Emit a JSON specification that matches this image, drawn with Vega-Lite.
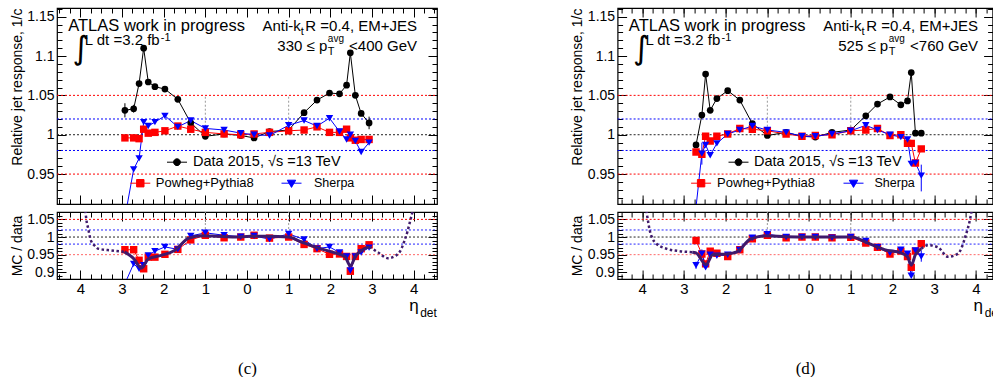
{
"$schema":"https://vega.github.io/schema/vega-lite/v6.json",
"background":"white",
"padding":{"left":9,"top":6,"right":-8,"bottom":0},
"bounds":"flush",
"columns":2,
"spacing":{"row":8,"column":180.6},
"datasets":{
"c":[
{"eta":-2.93,"d":1.031,"p":0.996,"s":0.895,"rp":0.964,"rs":0.868},
{"eta":-2.72,"d":1.033,"p":0.996,"s":0.956,"rp":0.964,"rs":0.924},
{"eta":-2.59,"d":1.065,"p":0.995,"s":0.970,"rp":0.934,"rs":0.910},
{"eta":-2.48,"d":1.110,"p":1.007,"s":1.016,"rp":0.910,"rs":0.920},
{"eta":-2.37,"d":1.067,"p":1.002,"s":1.011,"rp":0.943,"rs":0.948},
{"eta":-2.21,"d":1.061,"p":1.003,"s":1.016,"rp":0.943,"rs":0.960},
{"eta":-1.97,"d":1.058,"p":1.005,"s":1.024,"rp":0.951,"rs":0.972},
{"eta":-1.66,"d":1.045,"p":1.011,"s":1.010,"rp":0.965,"rs":0.965},
{"eta":-1.35,"d":1.015,"p":1.007,"s":1.018,"rp":0.992,"rs":1.003},
{"eta":-1.0,"d":0.998,"p":1.003,"s":1.008,"rp":1.005,"rs":1.012},
{"eta":-0.55,"d":1.001,"p":1.001,"s":1.006,"rp":0.998,"rs":1.005},
{"eta":-0.15,"d":0.999,"p":1.000,"s":1.002,"rp":1.000,"rs":1.001},
{"eta":0.17,"d":0.996,"p":1.001,"s":1.000,"rp":1.005,"rs":1.003},
{"eta":0.54,"d":1.004,"p":1.003,"s":0.999,"rp":0.997,"rs":0.994},
{"eta":1.0,"d":1.006,"p":1.005,"s":1.012,"rp":1.000,"rs":1.009},
{"eta":1.37,"d":1.028,"p":1.006,"s":1.018,"rp":0.979,"rs":0.993},
{"eta":1.68,"d":1.044,"p":1.010,"s":1.011,"rp":0.967,"rs":0.967},
{"eta":1.98,"d":1.053,"p":1.003,"s":1.021,"rp":0.951,"rs":0.972},
{"eta":2.22,"d":1.052,"p":1.003,"s":1.004,"rp":0.952,"rs":0.956},
{"eta":2.39,"d":1.063,"p":1.007,"s":0.994,"rp":0.945,"rs":0.945},
{"eta":2.48,"d":1.104,"p":0.996,"s":1.000,"rp":0.903,"rs":0.905},
{"eta":2.6,"d":1.050,"p":0.993,"s":0.992,"rp":0.945,"rs":0.945},
{"eta":2.74,"d":1.027,"p":0.994,"s":0.978,"rp":0.967,"rs":0.956},
{"eta":2.93,"d":1.015,"p":0.994,"s":0.990,"rp":0.978,"rs":0.970}
],
"c_fit":[
{"eta":-3.88,"v":1.075,"part":"L"},{"eta":-3.85,"v":1.045,"part":"L"},{"eta":-3.81,"v":1.024,"part":"L"},{"eta":-3.77,"v":1.0,"part":"L"},{"eta":-3.73,"v":0.986,"part":"L"},{"eta":-3.65,"v":0.975,"part":"L"},{"eta":-3.57,"v":0.967,"part":"L"},{"eta":-3.25,"v":0.962,"part":"L"},{"eta":-2.94,"v":0.958,"part":"L"},
{"eta":-2.94,"v":0.958,"part":"S"},{"eta":-2.73,"v":0.940,"part":"S"},{"eta":-2.53,"v":0.912,"part":"S"},{"eta":-2.37,"v":0.938,"part":"S"},{"eta":-2.06,"v":0.948,"part":"S"},{"eta":-1.74,"v":0.962,"part":"S"},{"eta":-1.41,"v":0.996,"part":"S"},{"eta":-1.1,"v":1.004,"part":"S"},{"eta":-0.7,"v":1.002,"part":"S"},{"eta":-0.3,"v":1.0,"part":"S"},{"eta":0.1,"v":1.002,"part":"S"},{"eta":0.5,"v":1.002,"part":"S"},{"eta":0.99,"v":1.0,"part":"S"},{"eta":1.31,"v":0.986,"part":"S"},{"eta":1.63,"v":0.972,"part":"S"},{"eta":2.03,"v":0.958,"part":"S"},{"eta":2.35,"v":0.945,"part":"S"},{"eta":2.48,"v":0.918,"part":"S"},{"eta":2.6,"v":0.945,"part":"S"},{"eta":2.82,"v":0.967,"part":"S"},{"eta":2.94,"v":0.972,"part":"S"},
{"eta":2.94,"v":0.972,"part":"R"},{"eta":3.14,"v":0.957,"part":"R"},{"eta":3.38,"v":0.940,"part":"R"},{"eta":3.58,"v":0.948,"part":"R"},{"eta":3.7,"v":0.965,"part":"R"},{"eta":3.78,"v":0.990,"part":"R"},{"eta":3.85,"v":1.015,"part":"R"},{"eta":3.9,"v":1.038,"part":"R"},{"eta":3.98,"v":1.075,"part":"R"}
],
"c_derr":[{"eta":-2.93,"lo":1.022,"hi":1.040},{"eta":2.93,"lo":1.007,"hi":1.023},{"eta":-2.72,"lo":1.028,"hi":1.038}],
"d":[
{"eta":-2.71,"d":0.987,"p":0.978,"s":0.908,"rp":0.990,"rs":0.920},
{"eta":-2.57,"d":1.025,"p":0.975,"s":0.976,"rp":0.952,"rs":0.953},
{"eta":-2.48,"d":1.077,"p":0.998,"s":0.987,"rp":0.924,"rs":0.914},
{"eta":-2.37,"d":1.031,"p":0.992,"s":0.974,"rp":0.960,"rs":0.950},
{"eta":-2.21,"d":1.046,"p":0.998,"s":0.989,"rp":0.954,"rs":0.947},
{"eta":-1.95,"d":1.056,"p":1.001,"s":1.001,"rp":0.945,"rs":0.950},
{"eta":-1.66,"d":1.044,"p":1.008,"s":1.006,"rp":0.964,"rs":0.963},
{"eta":-1.36,"d":1.014,"p":1.007,"s":1.011,"rp":0.995,"rs":0.998},
{"eta":-1.0,"d":0.999,"p":1.005,"s":1.006,"rp":1.005,"rs":1.008},
{"eta":-0.55,"d":1.003,"p":1.001,"s":1.003,"rp":0.998,"rs":1.000},
{"eta":-0.17,"d":0.998,"p":0.998,"s":0.998,"rp":1.000,"rs":1.000},
{"eta":0.15,"d":0.997,"p":0.999,"s":0.998,"rp":1.000,"rs":1.000},
{"eta":0.55,"d":1.003,"p":1.000,"s":1.001,"rp":0.998,"rs":0.998},
{"eta":1.0,"d":1.006,"p":1.005,"s":1.005,"rp":0.999,"rs":1.000},
{"eta":1.36,"d":1.024,"p":1.006,"s":1.012,"rp":0.983,"rs":0.989},
{"eta":1.64,"d":1.039,"p":1.008,"s":1.006,"rp":0.971,"rs":0.971},
{"eta":1.94,"d":1.048,"p":0.999,"s":1.000,"rp":0.952,"rs":0.955},
{"eta":2.2,"d":1.038,"p":1.000,"s":0.997,"rp":0.960,"rs":0.964},
{"eta":2.36,"d":1.043,"p":0.989,"s":0.994,"rp":0.945,"rs":0.953},
{"eta":2.45,"d":1.079,"p":0.989,"s":0.963,"rp":0.914,"rs":0.890},
{"eta":2.55,"d":1.002,"p":0.964,"s":0.964,"rp":0.960,"rs":0.962},
{"eta":2.69,"d":1.002,"p":0.982,"s":0.948,"rp":0.981,"rs":0.945}
],
"d_fit":[
{"eta":-3.9,"v":1.075,"part":"L"},{"eta":-3.86,"v":1.045,"part":"L"},{"eta":-3.82,"v":1.019,"part":"L"},{"eta":-3.75,"v":0.995,"part":"L"},{"eta":-3.66,"v":0.981,"part":"L"},{"eta":-3.42,"v":0.967,"part":"L"},{"eta":-3.1,"v":0.960,"part":"L"},{"eta":-2.8,"v":0.957,"part":"L"},
{"eta":-2.8,"v":0.957,"part":"S"},{"eta":-2.71,"v":0.955,"part":"S"},{"eta":-2.47,"v":0.922,"part":"S"},{"eta":-2.31,"v":0.950,"part":"S"},{"eta":-1.98,"v":0.952,"part":"S"},{"eta":-1.73,"v":0.958,"part":"S"},{"eta":-1.41,"v":0.994,"part":"S"},{"eta":-1.02,"v":1.004,"part":"S"},{"eta":-0.55,"v":1.001,"part":"S"},{"eta":0.0,"v":1.0,"part":"S"},{"eta":0.62,"v":1.0,"part":"S"},{"eta":1.02,"v":1.0,"part":"S"},{"eta":1.41,"v":0.983,"part":"S"},{"eta":1.81,"v":0.964,"part":"S"},{"eta":2.2,"v":0.955,"part":"S"},{"eta":2.36,"v":0.944,"part":"S"},{"eta":2.45,"v":0.920,"part":"S"},{"eta":2.55,"v":0.950,"part":"S"},{"eta":2.69,"v":0.967,"part":"S"},
{"eta":2.69,"v":0.967,"part":"R"},{"eta":2.85,"v":0.977,"part":"R"},{"eta":3.09,"v":0.971,"part":"R"},{"eta":3.33,"v":0.944,"part":"R"},{"eta":3.57,"v":0.953,"part":"R"},{"eta":3.77,"v":1.010,"part":"R"},{"eta":3.84,"v":1.040,"part":"R"},{"eta":3.9,"v":1.075,"part":"R"}
],
"d_serr":[{"eta":-2.57,"lo":0.962,"hi":0.990},{"eta":2.69,"lo":0.928,"hi":0.962}],
"d_rserr":[{"eta":2.69,"lo":0.930,"hi":0.962},{"eta":-2.71,"lo":0.910,"hi":0.930},{"eta":-2.57,"lo":0.940,"hi":0.965}]
},
"concat":[
{"width":380,"height":196,
"layer":[
{"data":{"values":[{"v":1.05},{"v":0.95}]},"mark":{"type":"rule","color":"#ff0000","strokeDash":[2,2],"strokeWidth":1},
 "encoding":{"x":{"datum":-4.56,"type":"quantitative","scale":{"domain":[-4.56,4.56],"nice":false,"zero":false},"axis":null},"x2":{"datum":4.56},
 "y":{"field":"v","type":"quantitative","scale":{"domain":[0.912,1.161],"nice":false,"zero":false},"axis":{"orient":"left","values":[0.95,1,1.05,1.1,1.15],"format":"~g","tickSize":-9,"labelPadding":12,"labelFontSize":14,"labelOverlap":false,"labelFlush":false,"title":"Relative jet response, 1/c","titleFontSize":14,"titleAnchor":"end","titlePadding":2.5}}}},
{"data":{"values":[{"v":1.02},{"v":0.98}]},"mark":{"type":"rule","color":"#0000ff","strokeDash":[2,2],"strokeWidth":1},
 "encoding":{"x":{"datum":-4.56,"type":"quantitative","scale":{"domain":[-4.56,4.56],"nice":false,"zero":false},"axis":null},"x2":{"datum":4.56},
 "y":{"field":"v","type":"quantitative","scale":{"domain":[0.912,1.161],"nice":false,"zero":false},"axis":{"orient":"left","values":[0.92,0.93,0.94,0.95,0.96,0.97,0.98,0.99,1,1.01,1.02,1.03,1.04,1.05,1.06,1.07,1.08,1.09,1.1,1.11,1.12,1.13,1.14,1.15,1.16],"tickSize":-5,"labels":false,"title":null}}}},
{"data":{"values":[{"v":1}]},"mark":{"type":"rule","color":"#222222","strokeDash":[2,2],"strokeWidth":1},
 "encoding":{"x":{"datum":-4.56,"type":"quantitative","scale":{"domain":[-4.56,4.56],"nice":false,"zero":false},"axis":null},"x2":{"datum":4.56},
 "y":{"field":"v","type":"quantitative","scale":{"domain":[0.912,1.161],"nice":false,"zero":false},"axis":{"orient":"right","values":[0.95,1,1.05,1.1,1.15],"tickSize":-9,"labels":false,"title":null}}}},
{"data":{"values":[{"e":-1},{"e":1}]},"mark":{"type":"rule","color":"#999999","strokeDash":[2,2],"strokeWidth":1},
 "encoding":{"x":{"field":"e","type":"quantitative","scale":{"domain":[-4.56,4.56],"nice":false,"zero":false},"axis":{"orient":"bottom","values":[-4,-3,-2,-1,0,1,2,3,4],"tickSize":-9,"labels":false,"title":null}},
 "y":{"datum":1,"type":"quantitative","scale":{"domain":[0.912,1.161],"nice":false,"zero":false},"axis":{"orient":"right","values":[0.92,0.93,0.94,0.95,0.96,0.97,0.98,0.99,1,1.01,1.02,1.03,1.04,1.05,1.06,1.07,1.08,1.09,1.1,1.11,1.12,1.13,1.14,1.15,1.16],"tickSize":-5,"labels":false,"title":null}},"y2":{"datum":1.05}}},
{"data":{"name":"c"},"mark":{"type":"line","color":"black","strokeWidth":1,"clip":true},
 "encoding":{"x":{"field":"eta","type":"quantitative","scale":{"domain":[-4.56,4.56],"nice":false,"zero":false},"axis":{"orient":"bottom","values":[-4.5,-4.25,-4,-3.75,-3.5,-3.25,-3,-2.75,-2.5,-2.25,-2,-1.75,-1.5,-1.25,-1,-0.75,-0.5,-0.25,0,0.25,0.5,0.75,1,1.25,1.5,1.75,2,2.25,2.5,2.75,3,3.25,3.5,3.75,4,4.25,4.5],"tickSize":-5,"labels":false,"title":null}},"y":{"field":"d","type":"quantitative","scale":{"domain":[0.912,1.161],"nice":false,"zero":false},"axis":null}}},
{"data":{"name":"c"},"mark":{"type":"line","color":"#ff0000","strokeWidth":1,"clip":true},
 "encoding":{"x":{"field":"eta","type":"quantitative","scale":{"domain":[-4.56,4.56],"nice":false,"zero":false},"axis":{"orient":"top","values":[-4,-3,-2,-1,0,1,2,3,4],"tickSize":-9,"labels":false,"title":null}},"y":{"field":"p","type":"quantitative","scale":{"domain":[0.912,1.161],"nice":false,"zero":false},"axis":null}}},
{"data":{"name":"c"},"mark":{"type":"line","color":"#0000ff","strokeWidth":1,"clip":true},
 "encoding":{"x":{"field":"eta","type":"quantitative","scale":{"domain":[-4.56,4.56],"nice":false,"zero":false},"axis":{"orient":"top","values":[-4.5,-4.25,-4,-3.75,-3.5,-3.25,-3,-2.75,-2.5,-2.25,-2,-1.75,-1.5,-1.25,-1,-0.75,-0.5,-0.25,0,0.25,0.5,0.75,1,1.25,1.5,1.75,2,2.25,2.5,2.75,3,3.25,3.5,3.75,4,4.25,4.5],"tickSize":-5,"labels":false,"title":null}},"y":{"field":"s","type":"quantitative","scale":{"domain":[0.912,1.161],"nice":false,"zero":false},"axis":null}}},
{"data":{"name":"c_derr"},"mark":{"type":"rule","color":"black","strokeWidth":1,"clip":true},
 "encoding":{"x":{"field":"eta","type":"quantitative","scale":{"domain":[-4.56,4.56],"nice":false,"zero":false},"axis":null},"y":{"field":"lo","type":"quantitative","scale":{"domain":[0.912,1.161],"nice":false,"zero":false},"axis":null},"y2":{"field":"hi"}}},
{"data":{"name":"c"},"mark":{"type":"point","shape":"circle","filled":true,"size":45,"opacity":1,"clip":true},
 "encoding":{"x":{"field":"eta","type":"quantitative","scale":{"domain":[-4.56,4.56],"nice":false,"zero":false},"axis":null},"y":{"field":"d","type":"quantitative","scale":{"domain":[0.912,1.161],"nice":false,"zero":false},"axis":null},
 "color":{"datum":"Data 2015, √s =13 TeV","type":"nominal","scale":{"range":["black"]},"legend":{"orient":"none","legendX":109.5,"legendY":143.7,"title":null,"padding":0,"symbolType":"M-1,0L1,0M0.34,0A0.34,0.34,0,1,1,-0.34,0A0.34,0.34,0,1,1,0.34,0Z","symbolSize":400,"symbolStrokeWidth":1,"symbolFillColor":"black","symbolStrokeColor":"black","labelFontSize":14.5,"labelOffset":5.5,"labelLimit":400}}}},
{"data":{"name":"c"},"mark":{"type":"point","shape":"square","filled":true,"size":55,"opacity":1,"clip":true},
 "encoding":{"x":{"field":"eta","type":"quantitative","scale":{"domain":[-4.56,4.56],"nice":false,"zero":false},"axis":null},"y":{"field":"p","type":"quantitative","scale":{"domain":[0.912,1.161],"nice":false,"zero":false},"axis":null},
 "color":{"datum":"Powheg+Pythia8","type":"nominal","scale":{"range":["#ff0000"]},"legend":{"orient":"none","legendX":72.8,"legendY":164.7,"title":null,"padding":0,"symbolType":"M-1,0L1,0M-0.37,-0.37L0.37,-0.37L0.37,0.37L-0.37,0.37Z","symbolSize":400,"symbolStrokeWidth":1,"symbolFillColor":"#ff0000","symbolStrokeColor":"#ff0000","labelFontSize":13,"labelOffset":5,"labelLimit":400}}}},
{"data":{"name":"c"},"mark":{"type":"point","shape":"triangle-down","filled":true,"size":55,"opacity":1,"clip":true},
 "encoding":{"x":{"field":"eta","type":"quantitative","scale":{"domain":[-4.56,4.56],"nice":false,"zero":false},"axis":null},"y":{"field":"s","type":"quantitative","scale":{"domain":[0.912,1.161],"nice":false,"zero":false},"axis":null},
 "color":{"datum":"Sherpa","type":"nominal","scale":{"range":["#0000ff"]},"legend":{"orient":"none","legendX":224,"legendY":164.7,"title":null,"padding":0,"symbolType":"M-1,0L1,0M-0.42,-0.3L0.42,-0.3L0,0.42Z","symbolSize":400,"symbolStrokeWidth":1,"symbolFillColor":"#0000ff","symbolStrokeColor":"#0000ff","labelFontSize":12.5,"labelOffset":12,"labelLimit":400}}}},
{"data":{"values":[{}]},"mark":{"type":"text","text":"ATLAS work in progress","align":"left","baseline":"alphabetic","fontSize":16.5},"encoding":{"x":{"datum":-4.29,"type":"quantitative","scale":{"domain":[-4.56,4.56],"nice":false,"zero":false},"axis":null},"y":{"datum":1.1317,"type":"quantitative","scale":{"domain":[0.912,1.161],"nice":false,"zero":false},"axis":null}}},
{"data":{"values":[{}]},"mark":{"type":"text","text":"∫","align":"left","baseline":"alphabetic","fontSize":32,"font":"DejaVu Sans"},"encoding":{"x":{"datum":-4.19,"type":"quantitative","scale":{"domain":[-4.56,4.56],"nice":false,"zero":false},"axis":null},"y":{"datum":1.0967,"type":"quantitative","scale":{"domain":[0.912,1.161],"nice":false,"zero":false},"axis":null}}},
{"data":{"values":[{}]},"mark":{"type":"text","text":"L dt =3.2 fb","align":"left","baseline":"alphabetic","fontSize":15},"encoding":{"x":{"datum":-3.894,"type":"quantitative","scale":{"domain":[-4.56,4.56],"nice":false,"zero":false},"axis":null},"y":{"datum":1.114,"type":"quantitative","scale":{"domain":[0.912,1.161],"nice":false,"zero":false},"axis":null}}},
{"data":{"values":[{}]},"mark":{"type":"text","text":"-1","align":"left","baseline":"alphabetic","fontSize":11},"encoding":{"x":{"datum":-2.07,"type":"quantitative","scale":{"domain":[-4.56,4.56],"nice":false,"zero":false},"axis":null},"y":{"datum":1.1195,"type":"quantitative","scale":{"domain":[0.912,1.161],"nice":false,"zero":false},"axis":null}}},
{"data":{"values":[{}]},"mark":{"type":"text","text":"Anti-k","align":"left","baseline":"alphabetic","fontSize":15},"encoding":{"x":{"datum":0.37,"type":"quantitative","scale":{"domain":[-4.56,4.56],"nice":false,"zero":false},"axis":null},"y":{"datum":1.1317,"type":"quantitative","scale":{"domain":[0.912,1.161],"nice":false,"zero":false},"axis":null}}},
{"data":{"values":[{}]},"mark":{"type":"text","text":"t","align":"left","baseline":"alphabetic","fontSize":11},"encoding":{"x":{"datum":1.29,"type":"quantitative","scale":{"domain":[-4.56,4.56],"nice":false,"zero":false},"axis":null},"y":{"datum":1.1267,"type":"quantitative","scale":{"domain":[0.912,1.161],"nice":false,"zero":false},"axis":null}}},
{"data":{"values":[{}]},"mark":{"type":"text","text":"R =0.4, EM+JES","align":"right","baseline":"alphabetic","fontSize":15},"encoding":{"x":{"datum":4.081,"type":"quantitative","scale":{"domain":[-4.56,4.56],"nice":false,"zero":false},"axis":null},"y":{"datum":1.1317,"type":"quantitative","scale":{"domain":[0.912,1.161],"nice":false,"zero":false},"axis":null}}},
{"data":{"values":[{}]},"mark":{"type":"text","text":"330 ≤ p","align":"right","baseline":"alphabetic","fontSize":15},"encoding":{"x":{"datum":1.927,"type":"quantitative","scale":{"domain":[-4.56,4.56],"nice":false,"zero":false},"axis":null},"y":{"datum":1.1064,"type":"quantitative","scale":{"domain":[0.912,1.161],"nice":false,"zero":false},"axis":null}}},
{"data":{"values":[{}]},"mark":{"type":"text","text":"T","align":"left","baseline":"alphabetic","fontSize":11},"encoding":{"x":{"datum":1.94,"type":"quantitative","scale":{"domain":[-4.56,4.56],"nice":false,"zero":false},"axis":null},"y":{"datum":1.1013,"type":"quantitative","scale":{"domain":[0.912,1.161],"nice":false,"zero":false},"axis":null}}},
{"data":{"values":[{}]},"mark":{"type":"text","text":"avg","align":"left","baseline":"alphabetic","fontSize":10},"encoding":{"x":{"datum":1.94,"type":"quantitative","scale":{"domain":[-4.56,4.56],"nice":false,"zero":false},"axis":null},"y":{"datum":1.1178,"type":"quantitative","scale":{"domain":[0.912,1.161],"nice":false,"zero":false},"axis":null}}},
{"data":{"values":[{}]},"mark":{"type":"text","text":"<400 GeV","align":"right","baseline":"alphabetic","fontSize":15},"encoding":{"x":{"datum":4.081,"type":"quantitative","scale":{"domain":[-4.56,4.56],"nice":false,"zero":false},"axis":null},"y":{"datum":1.1064,"type":"quantitative","scale":{"domain":[0.912,1.161],"nice":false,"zero":false},"axis":null}}}
],
"resolve":{"scale":{"color":"independent"},"axis":{"x":"independent","y":"independent"}}
},
{"width":375,"height":196,
"layer":[
{"data":{"values":[{"v":1.05},{"v":0.95}]},"mark":{"type":"rule","color":"#ff0000","strokeDash":[2,2],"strokeWidth":1},
 "encoding":{"x":{"datum":-4.59,"type":"quantitative","scale":{"domain":[-4.59,4.4],"nice":false,"zero":false},"axis":null},"x2":{"datum":4.4},
 "y":{"field":"v","type":"quantitative","scale":{"domain":[0.912,1.161],"nice":false,"zero":false},"axis":{"orient":"left","values":[0.95,1,1.05,1.1,1.15],"format":"~g","tickSize":-9,"labelPadding":12,"labelFontSize":14,"labelOverlap":false,"labelFlush":false,"title":"Relative jet response, 1/c","titleFontSize":14,"titleAnchor":"end","titlePadding":2.5}}}},
{"data":{"values":[{"v":1.02},{"v":0.98}]},"mark":{"type":"rule","color":"#0000ff","strokeDash":[2,2],"strokeWidth":1},
 "encoding":{"x":{"datum":-4.59,"type":"quantitative","scale":{"domain":[-4.59,4.4],"nice":false,"zero":false},"axis":null},"x2":{"datum":4.4},
 "y":{"field":"v","type":"quantitative","scale":{"domain":[0.912,1.161],"nice":false,"zero":false},"axis":{"orient":"left","values":[0.92,0.93,0.94,0.95,0.96,0.97,0.98,0.99,1,1.01,1.02,1.03,1.04,1.05,1.06,1.07,1.08,1.09,1.1,1.11,1.12,1.13,1.14,1.15,1.16],"tickSize":-5,"labels":false,"title":null}}}},
{"data":{"values":[{"v":1}]},"mark":{"type":"rule","color":"#222222","strokeDash":[2,2],"strokeWidth":1},
 "encoding":{"x":{"datum":-4.59,"type":"quantitative","scale":{"domain":[-4.59,4.4],"nice":false,"zero":false},"axis":null},"x2":{"datum":4.4},
 "y":{"field":"v","type":"quantitative","scale":{"domain":[0.912,1.161],"nice":false,"zero":false},"axis":{"orient":"right","values":[0.95,1,1.05,1.1,1.15],"tickSize":-9,"labels":false,"title":null}}}},
{"data":{"values":[{"e":-1},{"e":1}]},"mark":{"type":"rule","color":"#999999","strokeDash":[2,2],"strokeWidth":1},
 "encoding":{"x":{"field":"e","type":"quantitative","scale":{"domain":[-4.59,4.4],"nice":false,"zero":false},"axis":{"orient":"bottom","values":[-4,-3,-2,-1,0,1,2,3,4],"tickSize":-9,"labels":false,"title":null}},
 "y":{"datum":1,"type":"quantitative","scale":{"domain":[0.912,1.161],"nice":false,"zero":false},"axis":{"orient":"right","values":[0.92,0.93,0.94,0.95,0.96,0.97,0.98,0.99,1,1.01,1.02,1.03,1.04,1.05,1.06,1.07,1.08,1.09,1.1,1.11,1.12,1.13,1.14,1.15,1.16],"tickSize":-5,"labels":false,"title":null}},"y2":{"datum":1.05}}},
{"data":{"name":"d"},"mark":{"type":"line","color":"black","strokeWidth":1,"clip":true},
 "encoding":{"x":{"field":"eta","type":"quantitative","scale":{"domain":[-4.59,4.4],"nice":false,"zero":false},"axis":{"orient":"bottom","values":[-4.5,-4.25,-4,-3.75,-3.5,-3.25,-3,-2.75,-2.5,-2.25,-2,-1.75,-1.5,-1.25,-1,-0.75,-0.5,-0.25,0,0.25,0.5,0.75,1,1.25,1.5,1.75,2,2.25,2.5,2.75,3,3.25,3.5,3.75,4,4.25],"tickSize":-5,"labels":false,"title":null}},"y":{"field":"d","type":"quantitative","scale":{"domain":[0.912,1.161],"nice":false,"zero":false},"axis":null}}},
{"data":{"name":"d"},"mark":{"type":"line","color":"#ff0000","strokeWidth":1,"clip":true},
 "encoding":{"x":{"field":"eta","type":"quantitative","scale":{"domain":[-4.59,4.4],"nice":false,"zero":false},"axis":{"orient":"top","values":[-4,-3,-2,-1,0,1,2,3,4],"tickSize":-9,"labels":false,"title":null}},"y":{"field":"p","type":"quantitative","scale":{"domain":[0.912,1.161],"nice":false,"zero":false},"axis":null}}},
{"data":{"name":"d"},"mark":{"type":"line","color":"#0000ff","strokeWidth":1,"clip":true},
 "encoding":{"x":{"field":"eta","type":"quantitative","scale":{"domain":[-4.59,4.4],"nice":false,"zero":false},"axis":{"orient":"top","values":[-4.5,-4.25,-4,-3.75,-3.5,-3.25,-3,-2.75,-2.5,-2.25,-2,-1.75,-1.5,-1.25,-1,-0.75,-0.5,-0.25,0,0.25,0.5,0.75,1,1.25,1.5,1.75,2,2.25,2.5,2.75,3,3.25,3.5,3.75,4,4.25],"tickSize":-5,"labels":false,"title":null}},"y":{"field":"s","type":"quantitative","scale":{"domain":[0.912,1.161],"nice":false,"zero":false},"axis":null}}},
{"data":{"name":"d_serr"},"mark":{"type":"rule","color":"#0000ff","strokeWidth":1,"clip":true},
 "encoding":{"x":{"field":"eta","type":"quantitative","scale":{"domain":[-4.59,4.4],"nice":false,"zero":false},"axis":null},"y":{"field":"lo","type":"quantitative","scale":{"domain":[0.912,1.161],"nice":false,"zero":false},"axis":null},"y2":{"field":"hi"}}},
{"data":{"name":"d"},"mark":{"type":"point","shape":"circle","filled":true,"size":45,"opacity":1,"clip":true},
 "encoding":{"x":{"field":"eta","type":"quantitative","scale":{"domain":[-4.59,4.4],"nice":false,"zero":false},"axis":null},"y":{"field":"d","type":"quantitative","scale":{"domain":[0.912,1.161],"nice":false,"zero":false},"axis":null},
 "color":{"datum":"Data 2015, √s =13 TeV","type":"nominal","scale":{"range":["black"]},"legend":{"orient":"none","legendX":110.4,"legendY":143.7,"title":null,"padding":0,"symbolType":"M-1,0L1,0M0.34,0A0.34,0.34,0,1,1,-0.34,0A0.34,0.34,0,1,1,0.34,0Z","symbolSize":400,"symbolStrokeWidth":1,"symbolFillColor":"black","symbolStrokeColor":"black","labelFontSize":14.5,"labelOffset":5,"labelLimit":400}}}},
{"data":{"name":"d"},"mark":{"type":"point","shape":"square","filled":true,"size":55,"opacity":1,"clip":true},
 "encoding":{"x":{"field":"eta","type":"quantitative","scale":{"domain":[-4.59,4.4],"nice":false,"zero":false},"axis":null},"y":{"field":"p","type":"quantitative","scale":{"domain":[0.912,1.161],"nice":false,"zero":false},"axis":null},
 "color":{"datum":"Powheg+Pythia8","type":"nominal","scale":{"range":["#ff0000"]},"legend":{"orient":"none","legendX":73,"legendY":164.7,"title":null,"padding":0,"symbolType":"M-1,0L1,0M-0.37,-0.37L0.37,-0.37L0.37,0.37L-0.37,0.37Z","symbolSize":400,"symbolStrokeWidth":1,"symbolFillColor":"#ff0000","symbolStrokeColor":"#ff0000","labelFontSize":13,"labelOffset":5.5,"labelLimit":400}}}},
{"data":{"name":"d"},"mark":{"type":"point","shape":"triangle-down","filled":true,"size":55,"opacity":1,"clip":true},
 "encoding":{"x":{"field":"eta","type":"quantitative","scale":{"domain":[-4.59,4.4],"nice":false,"zero":false},"axis":null},"y":{"field":"s","type":"quantitative","scale":{"domain":[0.912,1.161],"nice":false,"zero":false},"axis":null},
 "color":{"datum":"Sherpa","type":"nominal","scale":{"range":["#0000ff"]},"legend":{"orient":"none","legendX":225.4,"legendY":164.7,"title":null,"padding":0,"symbolType":"M-1,0L1,0M-0.42,-0.3L0.42,-0.3L0,0.42Z","symbolSize":400,"symbolStrokeWidth":1,"symbolFillColor":"#0000ff","symbolStrokeColor":"#0000ff","labelFontSize":12.5,"labelOffset":10.5,"labelLimit":400}}}},
{"data":{"values":[{}]},"mark":{"type":"text","text":"ATLAS work in progress","align":"left","baseline":"alphabetic","fontSize":16.5},"encoding":{"x":{"datum":-4.32,"type":"quantitative","scale":{"domain":[-4.59,4.4],"nice":false,"zero":false},"axis":null},"y":{"datum":1.1317,"type":"quantitative","scale":{"domain":[0.912,1.161],"nice":false,"zero":false},"axis":null}}},
{"data":{"values":[{}]},"mark":{"type":"text","text":"∫","align":"left","baseline":"alphabetic","fontSize":32,"font":"DejaVu Sans"},"encoding":{"x":{"datum":-4.22,"type":"quantitative","scale":{"domain":[-4.59,4.4],"nice":false,"zero":false},"axis":null},"y":{"datum":1.0967,"type":"quantitative","scale":{"domain":[0.912,1.161],"nice":false,"zero":false},"axis":null}}},
{"data":{"values":[{}]},"mark":{"type":"text","text":"L dt =3.2 fb","align":"left","baseline":"alphabetic","fontSize":15},"encoding":{"x":{"datum":-3.924,"type":"quantitative","scale":{"domain":[-4.59,4.4],"nice":false,"zero":false},"axis":null},"y":{"datum":1.114,"type":"quantitative","scale":{"domain":[0.912,1.161],"nice":false,"zero":false},"axis":null}}},
{"data":{"values":[{}]},"mark":{"type":"text","text":"-1","align":"left","baseline":"alphabetic","fontSize":11},"encoding":{"x":{"datum":-2.10,"type":"quantitative","scale":{"domain":[-4.59,4.4],"nice":false,"zero":false},"axis":null},"y":{"datum":1.1195,"type":"quantitative","scale":{"domain":[0.912,1.161],"nice":false,"zero":false},"axis":null}}},
{"data":{"values":[{}]},"mark":{"type":"text","text":"Anti-k","align":"left","baseline":"alphabetic","fontSize":15},"encoding":{"x":{"datum":0.34,"type":"quantitative","scale":{"domain":[-4.59,4.4],"nice":false,"zero":false},"axis":null},"y":{"datum":1.1317,"type":"quantitative","scale":{"domain":[0.912,1.161],"nice":false,"zero":false},"axis":null}}},
{"data":{"values":[{}]},"mark":{"type":"text","text":"t","align":"left","baseline":"alphabetic","fontSize":11},"encoding":{"x":{"datum":1.26,"type":"quantitative","scale":{"domain":[-4.59,4.4],"nice":false,"zero":false},"axis":null},"y":{"datum":1.1267,"type":"quantitative","scale":{"domain":[0.912,1.161],"nice":false,"zero":false},"axis":null}}},
{"data":{"values":[{}]},"mark":{"type":"text","text":"R =0.4, EM+JES","align":"right","baseline":"alphabetic","fontSize":15},"encoding":{"x":{"datum":4.051,"type":"quantitative","scale":{"domain":[-4.59,4.4],"nice":false,"zero":false},"axis":null},"y":{"datum":1.1317,"type":"quantitative","scale":{"domain":[0.912,1.161],"nice":false,"zero":false},"axis":null}}},
{"data":{"values":[{}]},"mark":{"type":"text","text":"525 ≤ p","align":"right","baseline":"alphabetic","fontSize":15},"encoding":{"x":{"datum":1.897,"type":"quantitative","scale":{"domain":[-4.59,4.4],"nice":false,"zero":false},"axis":null},"y":{"datum":1.1064,"type":"quantitative","scale":{"domain":[0.912,1.161],"nice":false,"zero":false},"axis":null}}},
{"data":{"values":[{}]},"mark":{"type":"text","text":"T","align":"left","baseline":"alphabetic","fontSize":11},"encoding":{"x":{"datum":1.91,"type":"quantitative","scale":{"domain":[-4.59,4.4],"nice":false,"zero":false},"axis":null},"y":{"datum":1.1013,"type":"quantitative","scale":{"domain":[0.912,1.161],"nice":false,"zero":false},"axis":null}}},
{"data":{"values":[{}]},"mark":{"type":"text","text":"avg","align":"left","baseline":"alphabetic","fontSize":10},"encoding":{"x":{"datum":1.91,"type":"quantitative","scale":{"domain":[-4.59,4.4],"nice":false,"zero":false},"axis":null},"y":{"datum":1.1178,"type":"quantitative","scale":{"domain":[0.912,1.161],"nice":false,"zero":false},"axis":null}}},
{"data":{"values":[{}]},"mark":{"type":"text","text":"<760 GeV","align":"right","baseline":"alphabetic","fontSize":15},"encoding":{"x":{"datum":4.051,"type":"quantitative","scale":{"domain":[-4.59,4.4],"nice":false,"zero":false},"axis":null},"y":{"datum":1.1064,"type":"quantitative","scale":{"domain":[0.912,1.161],"nice":false,"zero":false},"axis":null}}}
],
"resolve":{"scale":{"color":"independent"},"axis":{"x":"independent","y":"independent"}}
},
{"width":380,"height":67,
"layer":[
{"data":{"values":[{"v":1.05}]},"mark":{"type":"rule","color":"#ff0000","strokeDash":[2,2],"strokeWidth":1},
 "encoding":{"x":{"datum":-4.56,"type":"quantitative","scale":{"domain":[-4.56,4.56],"nice":false,"zero":false},"axis":null},"x2":{"datum":4.56},
 "y":{"field":"v","type":"quantitative","scale":{"domain":[0.881,1.071],"nice":false,"zero":false},"axis":{"orient":"left","values":[0.9,0.95,1,1.05],"format":"~g","tickSize":-9,"labelPadding":12,"labelFontSize":14,"labelOverlap":false,"labelFlush":false,"title":"MC / data","titleFontSize":14,"titlePadding":2.5}}}},
{"data":{"values":[{"v":0.95}]},"mark":{"type":"rule","color":"#ff6666","strokeDash":[2,2],"strokeWidth":1},
 "encoding":{"x":{"datum":-4.56,"type":"quantitative","scale":{"domain":[-4.56,4.56],"nice":false,"zero":false},"axis":null},"x2":{"datum":4.56},
 "y":{"field":"v","type":"quantitative","scale":{"domain":[0.881,1.071],"nice":false,"zero":false},"axis":{"orient":"left","values":[0.89,0.9,0.91,0.92,0.93,0.94,0.95,0.96,0.97,0.98,0.99,1,1.01,1.02,1.03,1.04,1.05,1.06,1.07],"tickSize":-5,"labels":false,"title":null}}}},
{"data":{"values":[{"v":1.02},{"v":0.98}]},"mark":{"type":"rule","color":"#2222ff","strokeDash":[2,2],"strokeWidth":1},
 "encoding":{"x":{"datum":-4.56,"type":"quantitative","scale":{"domain":[-4.56,4.56],"nice":false,"zero":false},"axis":null},"x2":{"datum":4.56},
 "y":{"field":"v","type":"quantitative","scale":{"domain":[0.881,1.071],"nice":false,"zero":false},"axis":{"orient":"right","values":[0.9,0.95,1,1.05],"tickSize":-9,"labels":false,"title":null}}}},
{"data":{"values":[{"v":1}]},"mark":{"type":"rule","color":"#222222","strokeDash":[2,2],"strokeWidth":1},
 "encoding":{"x":{"datum":-4.56,"type":"quantitative","scale":{"domain":[-4.56,4.56],"nice":false,"zero":false},"axis":null},"x2":{"datum":4.56},
 "y":{"field":"v","type":"quantitative","scale":{"domain":[0.881,1.071],"nice":false,"zero":false},"axis":{"orient":"right","values":[0.89,0.9,0.91,0.92,0.93,0.94,0.95,0.96,0.97,0.98,0.99,1,1.01,1.02,1.03,1.04,1.05,1.06,1.07],"tickSize":-5,"labels":false,"title":null}}}},
{"data":{"values":[{"e":-1},{"e":1}]},"mark":{"type":"rule","color":"#999999","strokeDash":[2,2],"strokeWidth":1},
 "encoding":{"x":{"field":"e","type":"quantitative","scale":{"domain":[-4.56,4.56],"nice":false,"zero":false},"axis":{"orient":"bottom","values":[-4,-3,-2,-1,0,1,2,3,4],"tickSize":-9,"labelExpr":"format(abs(datum.value),'d')","labelPadding":11,"labelFontSize":15,"labelOverlap":false,"labelFlush":false,"title":"(c)","titleFont":"Liberation Serif","titleFontSize":17,"titlePadding":64}},
 "y":{"datum":1,"type":"quantitative","scale":{"domain":[0.881,1.071],"nice":false,"zero":false},"axis":null},"y2":{"datum":1.071}}},
{"data":{"name":"c"},"mark":{"type":"line","color":"#ff0000","strokeWidth":1,"clip":true},
 "encoding":{"x":{"field":"eta","type":"quantitative","scale":{"domain":[-4.56,4.56],"nice":false,"zero":false},"axis":{"orient":"bottom","values":[-4.5,-4.25,-4,-3.75,-3.5,-3.25,-3,-2.75,-2.5,-2.25,-2,-1.75,-1.5,-1.25,-1,-0.75,-0.5,-0.25,0,0.25,0.5,0.75,1,1.25,1.5,1.75,2,2.25,2.5,2.75,3,3.25,3.5,3.75,4,4.25,4.5],"tickSize":-5,"labels":false,"title":null}},"y":{"field":"rp","type":"quantitative","scale":{"domain":[0.881,1.071],"nice":false,"zero":false},"axis":null}}},
{"data":{"name":"c"},"mark":{"type":"line","color":"#0000ff","strokeWidth":1,"clip":true},
 "encoding":{"x":{"field":"eta","type":"quantitative","scale":{"domain":[-4.56,4.56],"nice":false,"zero":false},"axis":{"orient":"top","values":[-4,-3,-2,-1,0,1,2,3,4],"tickSize":-9,"labels":false,"title":null}},"y":{"field":"rs","type":"quantitative","scale":{"domain":[0.881,1.071],"nice":false,"zero":false},"axis":null}}},
{"data":{"name":"c"},"mark":{"type":"point","shape":"square","filled":true,"size":55,"opacity":1,"color":"#ff0000","clip":true},
 "encoding":{"x":{"field":"eta","type":"quantitative","scale":{"domain":[-4.56,4.56],"nice":false,"zero":false},"axis":null},"y":{"field":"rp","type":"quantitative","scale":{"domain":[0.881,1.071],"nice":false,"zero":false},"axis":null}}},
{"data":{"name":"c"},"mark":{"type":"point","shape":"triangle-down","filled":true,"size":55,"opacity":1,"color":"#0000ff","clip":true},
 "encoding":{"x":{"field":"eta","type":"quantitative","scale":{"domain":[-4.56,4.56],"nice":false,"zero":false},"axis":null},"y":{"field":"rs","type":"quantitative","scale":{"domain":[0.881,1.071],"nice":false,"zero":false},"axis":null}}},
{"data":{"name":"c_fit"},"transform":[{"filter":"datum.part == 'S'"}],"mark":{"type":"line","color":"#3f1a6c","strokeWidth":3,"interpolate":"monotone","clip":true},
 "encoding":{"x":{"field":"eta","type":"quantitative","scale":{"domain":[-4.56,4.56],"nice":false,"zero":false},"axis":{"orient":"top","values":[-4.5,-4.25,-4,-3.75,-3.5,-3.25,-3,-2.75,-2.5,-2.25,-2,-1.75,-1.5,-1.25,-1,-0.75,-0.5,-0.25,0,0.25,0.5,0.75,1,1.25,1.5,1.75,2,2.25,2.5,2.75,3,3.25,3.5,3.75,4,4.25,4.5],"tickSize":-5,"labels":false,"title":null}},"y":{"field":"v","type":"quantitative","scale":{"domain":[0.881,1.071],"nice":false,"zero":false},"axis":null}}},
{"data":{"name":"c_fit"},"transform":[{"filter":"datum.part == 'L'"}],"mark":{"type":"line","color":"#3f1a6c","strokeWidth":2.5,"strokeDash":[2.5,2.5],"interpolate":"monotone","clip":true},
 "encoding":{"x":{"field":"eta","type":"quantitative","scale":{"domain":[-4.56,4.56],"nice":false,"zero":false},"axis":null},"y":{"field":"v","type":"quantitative","scale":{"domain":[0.881,1.071],"nice":false,"zero":false},"axis":null}}},
{"data":{"name":"c_fit"},"transform":[{"filter":"datum.part == 'R'"}],"mark":{"type":"line","color":"#3f1a6c","strokeWidth":2.5,"strokeDash":[2.5,2.5],"interpolate":"monotone","clip":true},
 "encoding":{"x":{"field":"eta","type":"quantitative","scale":{"domain":[-4.56,4.56],"nice":false,"zero":false},"axis":null},"y":{"field":"v","type":"quantitative","scale":{"domain":[0.881,1.071],"nice":false,"zero":false},"axis":null}}},
{"data":{"values":[{}]},"mark":{"type":"text","text":"η","align":"left","baseline":"alphabetic","fontSize":17},"encoding":{"x":{"datum":3.892,"type":"quantitative","scale":{"domain":[-4.56,4.56],"nice":false,"zero":false},"axis":null},"y":{"datum":0.790,"type":"quantitative","scale":{"domain":[0.881,1.071],"nice":false,"zero":false},"axis":null}}},
{"data":{"values":[{}]},"mark":{"type":"text","text":"det","align":"left","baseline":"alphabetic","fontSize":12},"encoding":{"x":{"datum":4.156,"type":"quantitative","scale":{"domain":[-4.56,4.56],"nice":false,"zero":false},"axis":null},"y":{"datum":0.774,"type":"quantitative","scale":{"domain":[0.881,1.071],"nice":false,"zero":false},"axis":null}}}
],
"resolve":{"axis":{"x":"independent","y":"independent"}}
},
{"width":375,"height":67,
"layer":[
{"data":{"values":[{"v":1.05}]},"mark":{"type":"rule","color":"#ff0000","strokeDash":[2,2],"strokeWidth":1},
 "encoding":{"x":{"datum":-4.59,"type":"quantitative","scale":{"domain":[-4.59,4.4],"nice":false,"zero":false},"axis":null},"x2":{"datum":4.4},
 "y":{"field":"v","type":"quantitative","scale":{"domain":[0.881,1.071],"nice":false,"zero":false},"axis":{"orient":"left","values":[0.9,0.95,1,1.05],"format":"~g","tickSize":-9,"labelPadding":12,"labelFontSize":14,"labelOverlap":false,"labelFlush":false,"title":"MC / data","titleFontSize":14,"titlePadding":2.5}}}},
{"data":{"values":[{"v":0.95}]},"mark":{"type":"rule","color":"#ff6666","strokeDash":[2,2],"strokeWidth":1},
 "encoding":{"x":{"datum":-4.59,"type":"quantitative","scale":{"domain":[-4.59,4.4],"nice":false,"zero":false},"axis":null},"x2":{"datum":4.4},
 "y":{"field":"v","type":"quantitative","scale":{"domain":[0.881,1.071],"nice":false,"zero":false},"axis":{"orient":"left","values":[0.89,0.9,0.91,0.92,0.93,0.94,0.95,0.96,0.97,0.98,0.99,1,1.01,1.02,1.03,1.04,1.05,1.06,1.07],"tickSize":-5,"labels":false,"title":null}}}},
{"data":{"values":[{"v":1.02},{"v":0.98}]},"mark":{"type":"rule","color":"#2222ff","strokeDash":[2,2],"strokeWidth":1},
 "encoding":{"x":{"datum":-4.59,"type":"quantitative","scale":{"domain":[-4.59,4.4],"nice":false,"zero":false},"axis":null},"x2":{"datum":4.4},
 "y":{"field":"v","type":"quantitative","scale":{"domain":[0.881,1.071],"nice":false,"zero":false},"axis":{"orient":"right","values":[0.9,0.95,1,1.05],"tickSize":-9,"labels":false,"title":null}}}},
{"data":{"values":[{"v":1}]},"mark":{"type":"rule","color":"#222222","strokeDash":[2,2],"strokeWidth":1},
 "encoding":{"x":{"datum":-4.59,"type":"quantitative","scale":{"domain":[-4.59,4.4],"nice":false,"zero":false},"axis":null},"x2":{"datum":4.4},
 "y":{"field":"v","type":"quantitative","scale":{"domain":[0.881,1.071],"nice":false,"zero":false},"axis":{"orient":"right","values":[0.89,0.9,0.91,0.92,0.93,0.94,0.95,0.96,0.97,0.98,0.99,1,1.01,1.02,1.03,1.04,1.05,1.06,1.07],"tickSize":-5,"labels":false,"title":null}}}},
{"data":{"values":[{"e":-1},{"e":1}]},"mark":{"type":"rule","color":"#999999","strokeDash":[2,2],"strokeWidth":1},
 "encoding":{"x":{"field":"e","type":"quantitative","scale":{"domain":[-4.59,4.4],"nice":false,"zero":false},"axis":{"orient":"bottom","values":[-4,-3,-2,-1,0,1,2,3,4],"tickSize":-9,"labelExpr":"format(abs(datum.value),'d')","labelPadding":11,"labelFontSize":15,"labelOverlap":false,"labelFlush":false,"title":"(d)","titleFont":"Liberation Serif","titleFontSize":17,"titlePadding":64}},
 "y":{"datum":1,"type":"quantitative","scale":{"domain":[0.881,1.071],"nice":false,"zero":false},"axis":null},"y2":{"datum":1.071}}},
{"data":{"name":"d"},"mark":{"type":"line","color":"#ff0000","strokeWidth":1,"clip":true},
 "encoding":{"x":{"field":"eta","type":"quantitative","scale":{"domain":[-4.59,4.4],"nice":false,"zero":false},"axis":{"orient":"bottom","values":[-4.5,-4.25,-4,-3.75,-3.5,-3.25,-3,-2.75,-2.5,-2.25,-2,-1.75,-1.5,-1.25,-1,-0.75,-0.5,-0.25,0,0.25,0.5,0.75,1,1.25,1.5,1.75,2,2.25,2.5,2.75,3,3.25,3.5,3.75,4,4.25],"tickSize":-5,"labels":false,"title":null}},"y":{"field":"rp","type":"quantitative","scale":{"domain":[0.881,1.071],"nice":false,"zero":false},"axis":null}}},
{"data":{"name":"d"},"mark":{"type":"line","color":"#0000ff","strokeWidth":1,"clip":true},
 "encoding":{"x":{"field":"eta","type":"quantitative","scale":{"domain":[-4.59,4.4],"nice":false,"zero":false},"axis":{"orient":"top","values":[-4,-3,-2,-1,0,1,2,3,4],"tickSize":-9,"labels":false,"title":null}},"y":{"field":"rs","type":"quantitative","scale":{"domain":[0.881,1.071],"nice":false,"zero":false},"axis":null}}},
{"data":{"name":"d_rserr"},"mark":{"type":"rule","color":"#0000ff","strokeWidth":1,"clip":true},
 "encoding":{"x":{"field":"eta","type":"quantitative","scale":{"domain":[-4.59,4.4],"nice":false,"zero":false},"axis":null},"y":{"field":"lo","type":"quantitative","scale":{"domain":[0.881,1.071],"nice":false,"zero":false},"axis":null},"y2":{"field":"hi"}}},
{"data":{"name":"d"},"mark":{"type":"point","shape":"square","filled":true,"size":55,"opacity":1,"color":"#ff0000","clip":true},
 "encoding":{"x":{"field":"eta","type":"quantitative","scale":{"domain":[-4.59,4.4],"nice":false,"zero":false},"axis":null},"y":{"field":"rp","type":"quantitative","scale":{"domain":[0.881,1.071],"nice":false,"zero":false},"axis":null}}},
{"data":{"name":"d"},"mark":{"type":"point","shape":"triangle-down","filled":true,"size":55,"opacity":1,"color":"#0000ff","clip":true},
 "encoding":{"x":{"field":"eta","type":"quantitative","scale":{"domain":[-4.59,4.4],"nice":false,"zero":false},"axis":null},"y":{"field":"rs","type":"quantitative","scale":{"domain":[0.881,1.071],"nice":false,"zero":false},"axis":null}}},
{"data":{"name":"d_fit"},"transform":[{"filter":"datum.part == 'S'"}],"mark":{"type":"line","color":"#3f1a6c","strokeWidth":3,"interpolate":"monotone","clip":true},
 "encoding":{"x":{"field":"eta","type":"quantitative","scale":{"domain":[-4.59,4.4],"nice":false,"zero":false},"axis":{"orient":"top","values":[-4.5,-4.25,-4,-3.75,-3.5,-3.25,-3,-2.75,-2.5,-2.25,-2,-1.75,-1.5,-1.25,-1,-0.75,-0.5,-0.25,0,0.25,0.5,0.75,1,1.25,1.5,1.75,2,2.25,2.5,2.75,3,3.25,3.5,3.75,4,4.25],"tickSize":-5,"labels":false,"title":null}},"y":{"field":"v","type":"quantitative","scale":{"domain":[0.881,1.071],"nice":false,"zero":false},"axis":null}}},
{"data":{"name":"d_fit"},"transform":[{"filter":"datum.part == 'L'"}],"mark":{"type":"line","color":"#3f1a6c","strokeWidth":2.5,"strokeDash":[2.5,2.5],"interpolate":"monotone","clip":true},
 "encoding":{"x":{"field":"eta","type":"quantitative","scale":{"domain":[-4.59,4.4],"nice":false,"zero":false},"axis":null},"y":{"field":"v","type":"quantitative","scale":{"domain":[0.881,1.071],"nice":false,"zero":false},"axis":null}}},
{"data":{"name":"d_fit"},"transform":[{"filter":"datum.part == 'R'"}],"mark":{"type":"line","color":"#3f1a6c","strokeWidth":2.5,"strokeDash":[2.5,2.5],"interpolate":"monotone","clip":true},
 "encoding":{"x":{"field":"eta","type":"quantitative","scale":{"domain":[-4.59,4.4],"nice":false,"zero":false},"axis":null},"y":{"field":"v","type":"quantitative","scale":{"domain":[0.881,1.071],"nice":false,"zero":false},"axis":null}}},
{"data":{"values":[{}]},"mark":{"type":"text","text":"η","align":"left","baseline":"alphabetic","fontSize":17},"encoding":{"x":{"datum":3.94,"type":"quantitative","scale":{"domain":[-4.59,4.4],"nice":false,"zero":false},"axis":null},"y":{"datum":0.790,"type":"quantitative","scale":{"domain":[0.881,1.071],"nice":false,"zero":false},"axis":null}}},
{"data":{"values":[{}]},"mark":{"type":"text","text":"det","align":"left","baseline":"alphabetic","fontSize":12},"encoding":{"x":{"datum":4.21,"type":"quantitative","scale":{"domain":[-4.59,4.4],"nice":false,"zero":false},"axis":null},"y":{"datum":0.774,"type":"quantitative","scale":{"domain":[0.881,1.071],"nice":false,"zero":false},"axis":null}}}
],
"resolve":{"axis":{"x":"independent","y":"independent"}}
}
],
"config":{
"view":{"stroke":"black","strokeWidth":1.2},
"font":"Liberation Sans",
"axis":{"grid":false,"domain":false,"tickColor":"black","tickWidth":1,"labelColor":"black","titleColor":"black","labelFont":"Liberation Sans","titleFont":"Liberation Sans","titleFontWeight":"normal"},
"legend":{"labelFont":"Liberation Sans","labelColor":"black"},
"text":{"font":"Liberation Sans","color":"black"}
}
}
